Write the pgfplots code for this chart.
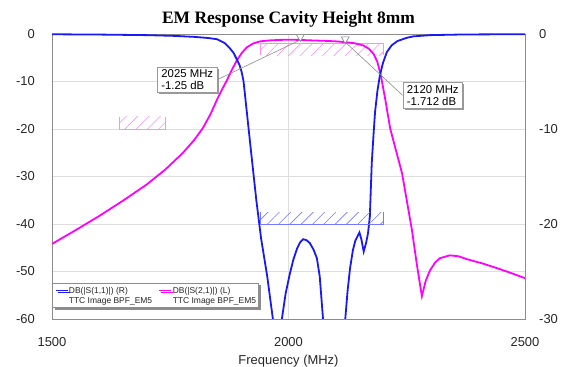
\documentclass[border=0pt]{standalone}
\usepackage{fontspec}
\setmainfont{Liberation Sans}
\newfontfamily\titlefont{Liberation Serif}
\usepackage{pgfplots}
\usepackage{pgfplotstable}
\pgfplotsset{compat=1.18}
\usetikzlibrary{patterns.meta,shadows}
\definecolor{sblue}{RGB}{25,25,245}
\definecolor{smag}{RGB}{255,0,255}
\definecolor{hmag}{RGB}{255,140,255}
\definecolor{hblue}{RGB}{120,120,255}
\definecolor{framegray}{RGB}{140,140,140}
\definecolor{gridgray}{RGB}{222,222,222}

% S21 (left axis, dB)
\pgfplotstableread{
f db
1500 -44.2
1550 -41.3
1600 -38.3
1650 -35.1
1700 -31.7
1740 -28.5
1777 -25.0
1800 -22.4
1819 -19.8
1835 -16.9
1849 -13.8
1860 -11.6
1870 -9.7
1880 -7.6
1891 -5.5
1902 -3.9
1912 -2.8
1925 -2.0
1940 -1.55
1960 -1.35
1980 -1.25
2000 -1.2
2025 -1.25
2050 -1.35
2080 -1.45
2100 -1.55
2120 -1.71
2140 -1.95
2158 -2.4
2170 -3.1
2180 -4.2
2188 -5.9
2195 -8.6
2205 -14.0
2215 -19.9
2228 -24.8
2240 -29.3
2250 -35.0
2261 -41.3
2271 -48.3
2282 -55.2
2290 -52.0
2299 -49.8
2310 -48.1
2320 -47.2
2341 -46.6
2360 -46.8
2377 -47.4
2410 -48.3
2441 -49.3
2470 -50.3
2500 -51.4
}\sTwoOne

% S11 (right axis, dB)
\pgfplotstableread{
f db
1500 -0.03
1600 -0.06
1700 -0.12
1760 -0.2
1800 -0.3
1830 -0.42
1849 -0.55
1865 -0.95
1876 -1.5
1884 -2.0
1890 -2.6
1896 -3.2
1901 -4.0
1905 -5.0
1908 -6.4
1914 -9.2
1920 -12.0
1932 -17.5
1942 -21.5
1955 -25.5
1967 -30.0
1978 -40
1986 -30.0
1994 -27.3
2003 -25.2
2010 -23.8
2018 -22.6
2025 -21.9
2031 -21.6
2038 -21.7
2045 -22.0
2053 -22.7
2060 -23.6
2066 -25.5
2073 -30.0
2095 -45
2120 -30.0
2125 -27.0
2130 -24.7
2136 -22.8
2141 -21.8
2150 -20.9
2154 -21.6
2159 -22.9
2164 -22.0
2168 -21.0
2172 -19.2
2176 -13.6
2180 -10.4
2183 -8.2
2188 -6.0
2193 -4.4
2200 -3.0
2208 -1.9
2218 -1.2
2230 -0.75
2250 -0.4
2264 -0.25
2300 -0.12
2369 -0.05
2500 -0.02
}\sOneOne

\begin{document}
\begin{tikzpicture}
\useasboundingbox (-52bp,-48bp) rectangle (516bp,319bp);
\pgfplotsset{
  common/.style={
    at={(0,0)}, anchor=south west, scale only axis,
    width=473bp, height=285bp,
    xmin=1500, xmax=2500,
    major tick length=0pt,
    axis line style={draw=framegray, line width=0.8bp},
    tick label style={font=\fontsize{13}{15}\selectfont, text=black!85},
  },
}
\begin{axis}[common,
  ymin=-60, ymax=0,
  xtick={1500,2000,2500}, xticklabels={1500,2000,2500},
  ytick={-60,-50,-40,-30,-20,-10,0},
  yticklabels={-60,-50,-40,-30,-20,-10,0},
  xtick pos=bottom, ytick pos=left,
  grid=major, major grid style={draw=gridgray, line width=0.8bp},
  yticklabel style={anchor=east, inner sep=0pt, xshift=-17bp},
  xticklabel style={anchor=base, yshift=-27bp},
  title={EM Response Cavity Height 8mm},
  title style={font=\titlefont\bfseries\fontsize{17.5}{20}\selectfont, at={(axis description cs:0.5,1)}, anchor=base, yshift=5bp},
  xlabel={Frequency (MHz)},
  xlabel style={font=\fontsize{13}{15}\selectfont, text=black!85, at={(axis description cs:0.5,0)}, anchor=base, yshift=-45bp},
]
% spec masks for S21
\addplot[draw=none, pattern={Lines[angle=45, distance=8bp, line width=0.6bp]}, pattern color=hmag, forget plot]
  coordinates {(1940,-2) (2200,-2) (2200,-4.5) (1940,-4.5)} -- cycle;
\addplot[hmag, line width=0.8bp, forget plot] coordinates {(1940,-4.5) (1940,-2) (2200,-2) (2200,-4.5)};
\addplot[draw=none, pattern={Lines[angle=45, distance=8bp, line width=0.6bp]}, pattern color=hmag, forget plot]
  coordinates {(1642,-20) (1740,-20) (1740,-17.4) (1642,-17.4)} -- cycle;
\addplot[hmag, line width=0.8bp, forget plot] coordinates {(1642,-17.4) (1642,-20) (1740,-20) (1740,-17.4)};
% S21 trace
\addplot[smag, line width=1.8bp] table[x=f, y=db] {\sTwoOne};
% markers
\addplot[only marks, mark=triangle*, mark size=4.5bp,
  mark options={yshift=3bp, rotate=180, draw=black!50, fill=white, line width=0.6bp}]
  coordinates {(2025,-1.25) (2120,-1.712)};
\end{axis}

\begin{axis}[common,
  ymin=-30, ymax=0,
  ytick={-30,-20,-10,0}, yticklabels={-30,-20,-10,0},
  axis y line*=right, hide x axis,
  yticklabel style={anchor=west, inner sep=0pt, xshift=14bp},
  legend columns=2,
  legend cell align=left,
  legend image code/.code={\draw[#1, line width=1.6bp] (0bp,12.8bp) -- (12bp,12.8bp);},
  legend style={at={(axis description cs:0,0)}, anchor=south west, xshift=0.5bp, yshift=11bp,
    draw=framegray, fill=white, line width=0.6bp,
    font=\fontsize{8.5}{10}\selectfont, text=black!85,
    inner xsep=2bp, inner ysep=2.5bp,
    nodes={inner sep=0.5bp, anchor=base west},
    /tikz/every even column/.append style={column sep=6bp},
    drop shadow={shadow xshift=2bp, shadow yshift=-2bp, fill=black!45, opacity=1}},
]
\addplot[sblue, line width=1.8bp] table[x=f, y=db] {\sOneOne};
\addlegendentry{\begin{tabular}[b]{@{}l@{}}DB(|S(1,1)|) (R)\\TTC Image BPF\_EM5\end{tabular}}
\addlegendimage{smag}
\addlegendentry{\begin{tabular}[b]{@{}l@{}}DB(|S(2,1)|) (L)\\TTC Image BPF\_EM5\end{tabular}}
% spec mask for S11
\addplot[draw=none, pattern={Lines[angle=45, distance=8bp, line width=0.6bp]}, pattern color=hblue, forget plot]
  coordinates {(1940,-20) (2200,-20) (2200,-18.75) (1940,-18.75)} -- cycle;
\addplot[hblue, line width=0.8bp, forget plot] coordinates {(1940,-18.75) (1940,-20) (2200,-20) (2200,-18.75)};
% annotations
\node[draw=black!40, fill=white, line width=0.6bp, font=\fontsize{11.4}{12.3}\selectfont, align=left,
  inner xsep=4bp, inner ysep=2.5bp,
  drop shadow={shadow xshift=1.8bp, shadow yshift=-1.8bp, fill=black!40, opacity=1}]
  (b1) at (axis cs:1786,-4.8) {2025 MHz\\-1.25 dB};
\draw[black!45, line width=0.6bp] (axis cs:2025,-0.625) -- (b1.east);
\node[draw=black!40, fill=white, line width=0.6bp, font=\fontsize{11.4}{12.3}\selectfont, align=left,
  inner xsep=4bp, inner ysep=2.5bp,
  drop shadow={shadow xshift=1.8bp, shadow yshift=-1.8bp, fill=black!40, opacity=1}]
  (b2) at (axis cs:2305,-6.45) {2120 MHz\\-1.712 dB};
\draw[black!45, line width=0.6bp] (axis cs:2120,-0.856) -- (b2.west);
\end{axis}
\end{tikzpicture}
\end{document}
